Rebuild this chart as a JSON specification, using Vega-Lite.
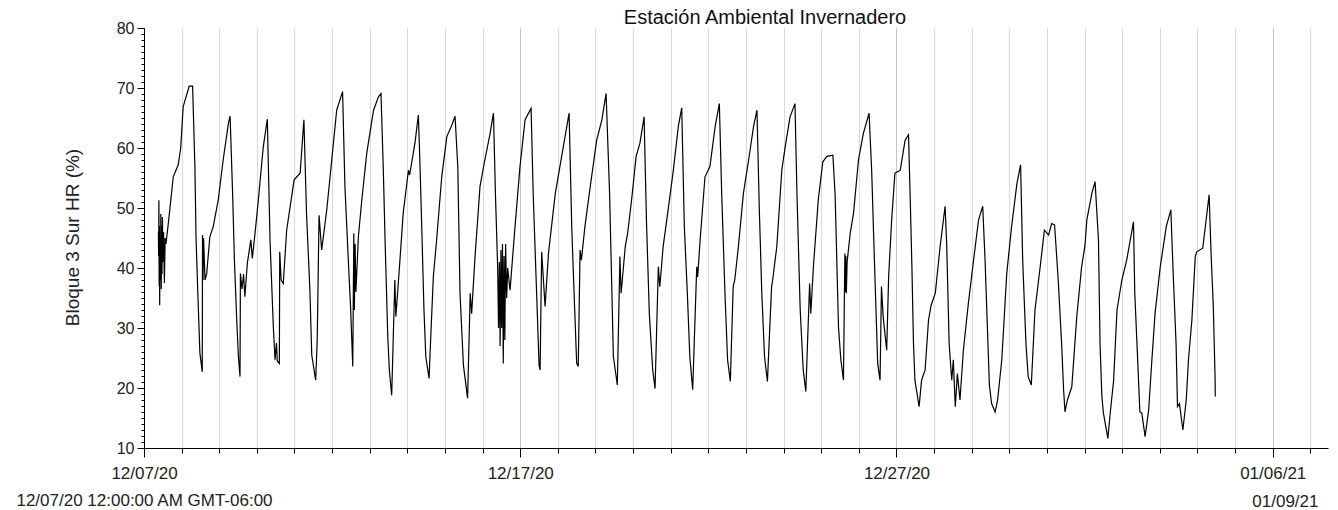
{
  "$schema": "https://vega.github.io/schema/vega-lite/v6.json",
  "autosize": "none",
  "width": 1184,
  "height": 420,
  "padding": {"left": 144, "top": 28, "right": 10, "bottom": 62},
  "background": "#ffffff",
  "config": {"view": {"stroke": null}, "font": "Liberation Sans"},
  "title": {"text": "Estación Ambiental Invernadero", "fontSize": 20, "font": "Liberation Sans", "fontWeight": "normal", "color": "#111111", "anchor": "middle", "frame": "group", "dx": 29, "baseline": "bottom", "offset": 0, "dy": 28},
  "data": {"values": [
    {"t":"2020-12-07T09:10","v":46},{"t":"2020-12-07T09:20","v":42},{"t":"2020-12-07T09:30","v":51.3},{"t":"2020-12-07T09:40","v":37},{"t":"2020-12-07T09:50","v":47},{"t":"2020-12-07T10:00","v":33.8},{"t":"2020-12-07T10:15","v":45},{"t":"2020-12-07T10:30","v":38},{"t":"2020-12-07T10:45","v":49},{"t":"2020-12-07T11:00","v":36.5},{"t":"2020-12-07T11:15","v":47},{"t":"2020-12-07T11:30","v":39},{"t":"2020-12-07T11:45","v":48.5},{"t":"2020-12-07T12:00","v":41},{"t":"2020-12-07T12:30","v":46},{"t":"2020-12-07T13:00","v":37.5},{"t":"2020-12-07T13:30","v":45},{"t":"2020-12-07T14:00","v":44},{"t":"2020-12-07T15:30","v":47.4},{"t":"2020-12-07T18:40","v":55.2},{"t":"2020-12-07T21:50","v":57.2},{"t":"2020-12-07T23:25","v":60},
    {"t":"2020-12-08T01:00","v":66.9},{"t":"2020-12-08T04:50","v":70.3},{"t":"2020-12-08T07:00","v":70.3},{"t":"2020-12-08T08:30","v":56.6},{"t":"2020-12-08T09:10","v":45.2},{"t":"2020-12-08T10:20","v":35.8},{"t":"2020-12-08T11:40","v":25.8},{"t":"2020-12-08T13:10","v":22.7},{"t":"2020-12-08T13:20","v":45.5},{"t":"2020-12-08T13:40","v":38},{"t":"2020-12-08T14:00","v":45},{"t":"2020-12-08T14:55","v":38},{"t":"2020-12-08T16:00","v":39.1},{"t":"2020-12-08T18:00","v":45.2},{"t":"2020-12-08T20:10","v":46.9},{"t":"2020-12-08T23:20","v":51.3},
    {"t":"2020-12-09T02:30","v":58},{"t":"2020-12-09T05:50","v":64.1},{"t":"2020-12-09T06:55","v":65.3},{"t":"2020-12-09T08:35","v":51.9},{"t":"2020-12-09T09:40","v":41.3},{"t":"2020-12-09T11:10","v":31.3},{"t":"2020-12-09T12:10","v":25.5},{"t":"2020-12-09T13:15","v":21.9},{"t":"2020-12-09T13:30","v":39.1},{"t":"2020-12-09T14:30","v":36.5},{"t":"2020-12-09T15:30","v":39},{"t":"2020-12-09T16:20","v":35.2},{"t":"2020-12-09T17:55","v":40.8},{"t":"2020-12-09T20:10","v":44.7},{"t":"2020-12-09T21:05","v":41.6},{"t":"2020-12-09T22:50","v":45.8},
    {"t":"2020-12-10T00:55","v":51.3},{"t":"2020-12-10T04:05","v":60.2},{"t":"2020-12-10T06:40","v":64.8},{"t":"2020-12-10T08:25","v":44.4},{"t":"2020-12-10T10:30","v":30.2},{"t":"2020-12-10T11:35","v":24.7},{"t":"2020-12-10T12:30","v":27.5},{"t":"2020-12-10T13:00","v":24.5},{"t":"2020-12-10T14:20","v":24.1},{"t":"2020-12-10T14:35","v":42.7},{"t":"2020-12-10T15:30","v":38},{"t":"2020-12-10T16:50","v":37.4},{"t":"2020-12-10T19:00","v":46.3},{"t":"2020-12-10T23:45","v":54.7},
    {"t":"2020-12-11T03:35","v":55.8},{"t":"2020-12-11T06:00","v":64.7},{"t":"2020-12-11T07:40","v":49.1},{"t":"2020-12-11T09:50","v":36.3},{"t":"2020-12-11T11:00","v":25.5},{"t":"2020-12-11T13:30","v":21.3},{"t":"2020-12-11T14:30","v":28},{"t":"2020-12-11T15:40","v":48.8},{"t":"2020-12-11T17:20","v":43},{"t":"2020-12-11T20:35","v":49.7},{"t":"2020-12-11T23:45","v":58},
    {"t":"2020-12-12T02:55","v":66.3},{"t":"2020-12-12T06:40","v":69.4},{"t":"2020-12-12T08:10","v":53.6},{"t":"2020-12-12T10:20","v":41.3},{"t":"2020-12-12T11:45","v":33.6},{"t":"2020-12-12T13:10","v":23.6},{"t":"2020-12-12T13:50","v":45.8},{"t":"2020-12-12T14:10","v":33},{"t":"2020-12-12T14:40","v":44},{"t":"2020-12-12T15:10","v":36},{"t":"2020-12-12T16:45","v":45.2},{"t":"2020-12-12T18:55","v":51.3},{"t":"2020-12-12T22:05","v":59.1},
    {"t":"2020-12-13T02:25","v":66.3},{"t":"2020-12-13T05:30","v":68.5},{"t":"2020-12-13T07:10","v":69.1},{"t":"2020-12-13T08:40","v":56.3},{"t":"2020-12-13T09:50","v":44.1},{"t":"2020-12-13T11:30","v":28.6},{"t":"2020-12-13T12:30","v":23},{"t":"2020-12-13T14:00","v":18.8},{"t":"2020-12-13T16:00","v":38},{"t":"2020-12-13T16:40","v":31.9},{"t":"2020-12-13T19:15","v":41.3},{"t":"2020-12-13T21:20","v":49.1},
    {"t":"2020-12-14T00:40","v":56.3},{"t":"2020-12-14T01:25","v":55.5},{"t":"2020-12-14T04:50","v":60.8},{"t":"2020-12-14T07:00","v":65.5},{"t":"2020-12-14T07:50","v":59.1},{"t":"2020-12-14T09:10","v":46.9},{"t":"2020-12-14T10:35","v":33},{"t":"2020-12-14T11:45","v":25.2},{"t":"2020-12-14T13:50","v":21.6},{"t":"2020-12-14T15:00","v":29.1},{"t":"2020-12-14T16:35","v":38.6},{"t":"2020-12-14T18:40","v":44.7},{"t":"2020-12-14T21:55","v":55.2},
    {"t":"2020-12-15T01:10","v":61.9},{"t":"2020-12-15T04:20","v":63.8},{"t":"2020-12-15T06:25","v":65.3},{"t":"2020-12-15T08:10","v":56.9},{"t":"2020-12-15T09:35","v":35.8},{"t":"2020-12-15T11:45","v":23.8},{"t":"2020-12-15T14:25","v":18.3},{"t":"2020-12-15T16:05","v":35.8},{"t":"2020-12-15T17:00","v":32.4},{"t":"2020-12-15T19:10","v":41.9},{"t":"2020-12-15T22:20","v":53.6},
    {"t":"2020-12-16T01:25","v":58},{"t":"2020-12-16T04:45","v":62.4},{"t":"2020-12-16T06:55","v":65.8},{"t":"2020-12-16T08:10","v":52.4},{"t":"2020-12-16T09:35","v":40.2},{"t":"2020-12-16T10:10","v":30},{"t":"2020-12-16T10:40","v":41},{"t":"2020-12-16T11:10","v":27},{"t":"2020-12-16T11:40","v":43},{"t":"2020-12-16T12:10","v":30},{"t":"2020-12-16T12:40","v":44},{"t":"2020-12-16T13:10","v":24.1},{"t":"2020-12-16T13:40","v":42},{"t":"2020-12-16T14:10","v":28},{"t":"2020-12-16T14:40","v":44},{"t":"2020-12-16T15:20","v":35},{"t":"2020-12-16T16:00","v":40},{"t":"2020-12-16T17:30","v":36.3},{"t":"2020-12-16T20:40","v":46.9},{"t":"2020-12-16T23:50","v":56.9},
    {"t":"2020-12-17T03:05","v":64.7},{"t":"2020-12-17T06:55","v":66.6},{"t":"2020-12-17T08:15","v":52.4},{"t":"2020-12-17T10:35","v":34.7},{"t":"2020-12-17T12:00","v":23.8},{"t":"2020-12-17T12:40","v":23},{"t":"2020-12-17T13:40","v":42.7},{"t":"2020-12-17T15:50","v":33.6},{"t":"2020-12-17T18:00","v":42.4},{"t":"2020-12-17T22:20","v":52.4},
    {"t":"2020-12-18T02:25","v":58.6},{"t":"2020-12-18T07:10","v":65.8},{"t":"2020-12-18T08:50","v":46.9},{"t":"2020-12-18T10:35","v":34.1},{"t":"2020-12-18T12:00","v":24.1},{"t":"2020-12-18T13:00","v":23.6},{"t":"2020-12-18T14:10","v":43},{"t":"2020-12-18T15:00","v":41.3},{"t":"2020-12-18T17:15","v":46.9},{"t":"2020-12-18T20:40","v":53.6},
    {"t":"2020-12-19T00:45","v":61.3},{"t":"2020-12-19T04:05","v":64.7},{"t":"2020-12-19T06:45","v":69.1},{"t":"2020-12-19T09:00","v":52.4},{"t":"2020-12-19T11:25","v":25.2},{"t":"2020-12-19T13:55","v":20.5},{"t":"2020-12-19T15:35","v":41.9},{"t":"2020-12-19T16:20","v":35.8},{"t":"2020-12-19T19:00","v":43.6},{"t":"2020-12-19T20:30","v":45.8},{"t":"2020-12-19T23:00","v":51.3},
    {"t":"2020-12-20T01:55","v":58.6},{"t":"2020-12-20T04:20","v":60.8},{"t":"2020-12-20T07:00","v":65.2},{"t":"2020-12-20T08:30","v":48},{"t":"2020-12-20T10:20","v":32.4},{"t":"2020-12-20T12:30","v":23},{"t":"2020-12-20T14:00","v":19.9},{"t":"2020-12-20T16:05","v":40.2},{"t":"2020-12-20T17:00","v":36.9},{"t":"2020-12-20T19:10","v":43.6},{"t":"2020-12-20T22:35","v":50.2},
    {"t":"2020-12-21T01:40","v":56.3},{"t":"2020-12-21T04:50","v":63.6},{"t":"2020-12-21T07:00","v":66.7},{"t":"2020-12-21T08:40","v":46.9},{"t":"2020-12-21T10:35","v":35.8},{"t":"2020-12-21T12:10","v":25.2},{"t":"2020-12-21T14:00","v":19.7},{"t":"2020-12-21T16:35","v":40.2},{"t":"2020-12-21T17:10","v":38.5},{"t":"2020-12-21T18:45","v":44.7},{"t":"2020-12-21T21:50","v":55.2},
    {"t":"2020-12-22T01:00","v":56.9},{"t":"2020-12-22T04:20","v":63.6},{"t":"2020-12-22T07:00","v":67.4},{"t":"2020-12-22T08:30","v":52.4},{"t":"2020-12-22T10:35","v":35.8},{"t":"2020-12-22T12:15","v":24.7},{"t":"2020-12-22T14:00","v":21.1},{"t":"2020-12-22T15:50","v":36.9},{"t":"2020-12-22T16:50","v":38},{"t":"2020-12-22T19:10","v":43.6},{"t":"2020-12-22T22:20","v":52.4},
    {"t":"2020-12-23T01:40","v":58},{"t":"2020-12-23T04:50","v":63.6},{"t":"2020-12-23T07:00","v":66.3},{"t":"2020-12-23T08:30","v":49.7},{"t":"2020-12-23T10:05","v":35.8},{"t":"2020-12-23T11:50","v":25.2},{"t":"2020-12-23T13:40","v":21.1},{"t":"2020-12-23T16:20","v":36.9},{"t":"2020-12-23T17:00","v":38},{"t":"2020-12-23T19:40","v":43.6},{"t":"2020-12-23T22:50","v":56.3},
    {"t":"2020-12-24T01:00","v":60.2},{"t":"2020-12-24T04:05","v":65.2},{"t":"2020-12-24T07:15","v":67.4},{"t":"2020-12-24T08:30","v":52.4},{"t":"2020-12-24T10:35","v":33},{"t":"2020-12-24T12:30","v":23},{"t":"2020-12-24T14:10","v":19.4},{"t":"2020-12-24T16:35","v":37.4},{"t":"2020-12-24T17:20","v":32.4},{"t":"2020-12-24T19:00","v":40.2},{"t":"2020-12-24T22:05","v":51.3},
    {"t":"2020-12-25T01:00","v":57.7},{"t":"2020-12-25T03:35","v":58.6},{"t":"2020-12-25T07:25","v":58.8},{"t":"2020-12-25T08:50","v":52.4},{"t":"2020-12-25T11:00","v":30.2},{"t":"2020-12-25T12:30","v":24.7},{"t":"2020-12-25T14:10","v":21.3},{"t":"2020-12-25T15:05","v":42.4},{"t":"2020-12-25T15:20","v":36},{"t":"2020-12-25T15:40","v":42},{"t":"2020-12-25T16:00","v":35.8},{"t":"2020-12-25T16:30","v":41},{"t":"2020-12-25T18:30","v":45.8},{"t":"2020-12-25T20:35","v":49.1},{"t":"2020-12-25T23:45","v":58},
    {"t":"2020-12-26T02:50","v":62.4},{"t":"2020-12-26T06:30","v":65.8},{"t":"2020-12-26T08:10","v":56.3},{"t":"2020-12-26T09:50","v":41.9},{"t":"2020-12-26T11:00","v":32.4},{"t":"2020-12-26T12:00","v":24.1},{"t":"2020-12-26T13:30","v":21.3},{"t":"2020-12-26T14:25","v":36.9},{"t":"2020-12-26T15:30","v":31.9},{"t":"2020-12-26T17:45","v":26.3},{"t":"2020-12-26T19:00","v":38.6},{"t":"2020-12-26T20:55","v":48},{"t":"2020-12-26T23:00","v":55.8},
    {"t":"2020-12-27T02:25","v":56.3},{"t":"2020-12-27T05:30","v":61.3},{"t":"2020-12-27T07:40","v":62.2},{"t":"2020-12-27T08:40","v":52.4},{"t":"2020-12-27T09:50","v":40.2},{"t":"2020-12-27T10:50","v":27.4},{"t":"2020-12-27T11:45","v":21.3},{"t":"2020-12-27T14:25","v":16.9},{"t":"2020-12-27T16:00","v":21.3},{"t":"2020-12-27T18:15","v":23},{"t":"2020-12-27T20:25","v":31.3},{"t":"2020-12-27T22:05","v":33.8},
    {"t":"2020-12-28T00:45","v":35.8},{"t":"2020-12-28T03:50","v":43.6},{"t":"2020-12-28T07:00","v":50.3},{"t":"2020-12-28T08:00","v":44.1},{"t":"2020-12-28T09:35","v":27.4},{"t":"2020-12-28T11:15","v":21.3},{"t":"2020-12-28T12:15","v":24.7},{"t":"2020-12-28T13:30","v":16.9},{"t":"2020-12-28T14:50","v":22.4},{"t":"2020-12-28T16:30","v":18},{"t":"2020-12-28T18:40","v":26.3},{"t":"2020-12-28T21:50","v":34.1},
    {"t":"2020-12-29T01:10","v":41.3},{"t":"2020-12-29T04:20","v":48},{"t":"2020-12-29T07:00","v":50.3},{"t":"2020-12-29T08:30","v":41.3},{"t":"2020-12-29T10:20","v":27.4},{"t":"2020-12-29T11:15","v":20.5},{"t":"2020-12-29T12:40","v":17.4},{"t":"2020-12-29T14:55","v":16},{"t":"2020-12-29T16:30","v":18},{"t":"2020-12-29T19:10","v":24.7},{"t":"2020-12-29T22:20","v":39.1},
    {"t":"2020-12-30T01:25","v":46.9},{"t":"2020-12-30T04:50","v":54.1},{"t":"2020-12-30T07:10","v":57.2},{"t":"2020-12-30T08:30","v":41.3},{"t":"2020-12-30T10:35","v":27.4},{"t":"2020-12-30T12:00","v":21.9},{"t":"2020-12-30T14:00","v":20.5},{"t":"2020-12-30T16:20","v":33},{"t":"2020-12-30T19:40","v":40.2},{"t":"2020-12-30T22:20","v":46.3},
    {"t":"2020-12-31T01:00","v":45.5},{"t":"2020-12-31T03:00","v":47.4},{"t":"2020-12-31T04:50","v":47.2},{"t":"2020-12-31T07:10","v":38},{"t":"2020-12-31T09:20","v":27.4},{"t":"2020-12-31T10:35","v":19.7},{"t":"2020-12-31T11:30","v":16},{"t":"2020-12-31T13:00","v":18},{"t":"2020-12-31T15:50","v":20.2},{"t":"2020-12-31T19:00","v":31.9},{"t":"2020-12-31T22:05","v":40.2},
    {"t":"2021-01-01T00:15","v":43.8},{"t":"2021-01-01T01:25","v":48},{"t":"2021-01-01T04:35","v":52.4},{"t":"2021-01-01T06:40","v":54.4},{"t":"2021-01-01T08:50","v":44.7},{"t":"2021-01-01T09:50","v":27.4},{"t":"2021-01-01T11:00","v":18.6},{"t":"2021-01-01T12:00","v":15.8},{"t":"2021-01-01T14:50","v":11.6},{"t":"2021-01-01T16:20","v":15.8},{"t":"2021-01-01T18:30","v":21.3},{"t":"2021-01-01T20:40","v":33},{"t":"2021-01-01T23:45","v":38},
    {"t":"2021-01-02T02:50","v":41.3},{"t":"2021-01-02T07:10","v":47.7},{"t":"2021-01-02T08:00","v":35.8},{"t":"2021-01-02T09:50","v":24.7},{"t":"2021-01-02T11:15","v":16},{"t":"2021-01-02T12:30","v":15.8},{"t":"2021-01-02T14:35","v":11.9},{"t":"2021-01-02T16:50","v":16.3},{"t":"2021-01-02T18:55","v":24.7},{"t":"2021-01-02T20:55","v":32.4},
    {"t":"2021-01-03T00:15","v":40.2},{"t":"2021-01-03T04:05","v":46.9},{"t":"2021-01-03T07:00","v":49.7},{"t":"2021-01-03T08:30","v":39.1},{"t":"2021-01-03T10:20","v":27.4},{"t":"2021-01-03T11:15","v":16.9},{"t":"2021-01-03T12:30","v":17.4},{"t":"2021-01-03T14:40","v":13},{"t":"2021-01-03T16:50","v":18},{"t":"2021-01-03T18:15","v":24.7},{"t":"2021-01-03T20:25","v":31.3},{"t":"2021-01-03T22:35","v":41.9},{"t":"2021-01-03T23:30","v":42.7},
    {"t":"2021-01-04T03:20","v":43.3},{"t":"2021-01-04T05:30","v":48},{"t":"2021-01-04T07:25","v":52.2},{"t":"2021-01-04T08:40","v":42.4},{"t":"2021-01-04T10:05","v":33.6},{"t":"2021-01-04T11:15","v":21.3},{"t":"2021-01-04T11:20","v":18.6}
  ]},
  "mark": {"type": "line", "color": "#000000", "strokeWidth": 1.2, "interpolate": "linear"},
  "encoding": {
    "x": {
      "field": "t", "type": "temporal",
      "scale": {"domain": [{"year": 2020, "month": 12, "date": 7}, {"year": 2021, "month": 1, "date": 7, "hours": 11, "minutes": 15}]},
      "axis": {
        "tickCount": {"interval": "day", "step": 1},
        "grid": true,
        "gridColor": {"condition": {"test": "indexof(['12/07/20','12/17/20','12/27/20','01/06/21'], timeFormat(datum.value, '%m/%d/%y')) >= 0", "value": "#c4c4c4"}, "value": "#dadada"},
        "gridWidth": 1,
        "domainColor": "#000000",
        "domainWidth": 1,
        "tickColor": "#000000",
        "tickSize": {"condition": {"test": "indexof(['12/07/20','12/17/20','12/27/20','01/06/21'], timeFormat(datum.value, '%m/%d/%y')) >= 0", "value": 9}, "value": 5},
        "labelExpr": "timeFormat(datum.value, '%m/%d/%y') == '12/07/20' ? ['12/07/20', '12/07/20 12:00:00 AM GMT-06:00'] : (indexof(['12/17/20','12/27/20','01/06/21'], timeFormat(datum.value, '%m/%d/%y')) >= 0 ? timeFormat(datum.value, '%m/%d/%y') : '')",
        "labelOverlap": false,
        "labelFlush": false,
        "labelBound": false,
        "labelLimit": 0,
        "labelFont": "Liberation Sans",
        "labelFontSize": 17,
        "labelColor": "#222222",
        "labelPadding": 8,
        "labelLineHeight": 27,
        "labelAngle": 0,
        "title": "01/09/21",
        "titleFont": "Liberation Sans",
        "titleFontSize": 17,
        "titleFontWeight": "normal",
        "titleColor": "#222222",
        "titleX": 1174,
        "titleY": 58,
        "titleAlign": "right",
        "titleAnchor": "end",
        "titleBaseline": "alphabetic"
      }
    },
    "y": {
      "field": "v", "type": "quantitative",
      "scale": {"domain": [10, 80], "nice": false, "zero": false},
      "axis": {
        "values": [10,11,12,13,14,15,16,17,18,19,20,21,22,23,24,25,26,27,28,29,30,31,32,33,34,35,36,37,38,39,40,41,42,43,44,45,46,47,48,49,50,51,52,53,54,55,56,57,58,59,60,61,62,63,64,65,66,67,68,69,70,71,72,73,74,75,76,77,78,79,80],
        "labelExpr": "datum.value % 10 == 0 ? datum.label : ''",
        "grid": false,
        "domainColor": "#000000",
        "tickColor": "#000000",
        "tickSize": {"condition": {"test": "datum.value % 10 == 0", "value": 7}, "value": 3},
        "labelFont": "Liberation Sans",
        "labelFontSize": 16,
        "labelColor": "#222222",
        "labelPadding": 3,
        "labelOverlap": false,
        "labelBound": false,
        "labelFlush": false,
        "title": "Bloque 3 Sur HR (%)",
        "titleFont": "Liberation Sans",
        "titleFontSize": 19,
        "titleFontWeight": "normal",
        "titleColor": "#222222",
        "titleX": -72,
        "titleY": 209,
        "titleAngle": 270,
        "titleAlign": "center",
        "titleBaseline": "middle"
      }
    }
  }
}
